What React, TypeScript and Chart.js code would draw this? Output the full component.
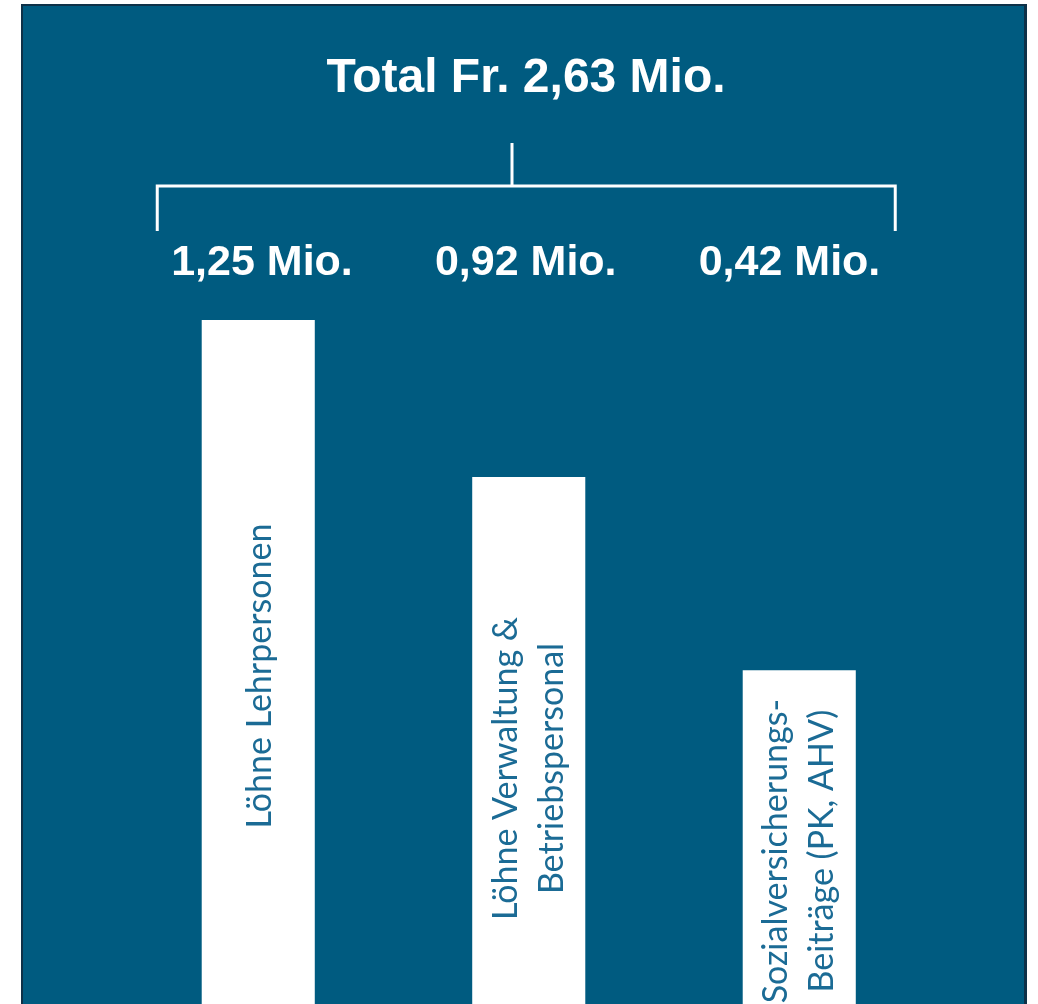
import React, { useEffect, useRef } from "react";
import { Chart, registerables } from "chart.js";

Chart.register(...registerables);

const title = "Total Fr. 2,63 Mio.";
const categories: string[][] = [
  ["Löhne Lehrpersonen"],
  ["Löhne Verwaltung &", "Betriebspersonal"],
  ["Sozialversicherungs-", "Beiträge (PK, AHV)"],
];
const amountLabels = ["1,25 Mio.", "0,92 Mio.", "0,42 Mio."];
// apparent bar lengths as drawn in the picture (bars run off the bottom edge)
const barLengths = [1.25, 0.963, 0.61];

const PANEL = "#005b80";
const LABEL_BLUE = "#1b6b95";

const overlayPlugin = {
  id: "overlay",
  afterDatasetsDraw(chart: any) {
    const { ctx, chartArea } = chart;
    const meta = chart.getDatasetMeta(0);
    const bars = meta.data;
    ctx.save();
    // title
    ctx.fillStyle = "#ffffff";
    ctx.font = "bold 48px 'Liberation Sans', Arial, sans-serif";
    ctx.textAlign = "center";
    ctx.textBaseline = "alphabetic";
    ctx.fillText(title, 526, 92);

    // bracket
    const left = bars[0].x - 101;
    const right = bars[bars.length - 1].x + 96;
    ctx.strokeStyle = "#ffffff";
    ctx.lineWidth = 3;
    ctx.beginPath();
    ctx.moveTo(left, 231);
    ctx.lineTo(left, 186);
    ctx.lineTo(right, 186);
    ctx.lineTo(right, 231);
    ctx.moveTo(512, 186);
    ctx.lineTo(512, 143);
    ctx.stroke();

    // amounts
    ctx.font = "bold 43px 'Liberation Sans', Arial, sans-serif";
    const mid = bars[1].x;
    bars.forEach((b: any, i: number) => {
      ctx.fillText(amountLabels[i], mid - 3 + (b.x - mid) * 0.975, 275);
    });

    // rotated labels inside bars
    ctx.fillStyle = LABEL_BLUE;
    ctx.font = "34px Lato, 'Open Sans', sans-serif";
    ctx.textBaseline = "middle";
    const lineH = 46;
    bars.forEach((b: any, i: number) => {
      const lines = categories[i];
      const cy = (b.y + chartArea.bottom) / 2 + (i === 1 ? 28 : 14);
      ctx.save();
      ctx.translate(b.x + (lines.length === 1 ? 2 : 0), cy);
      ctx.rotate(-Math.PI / 2);
      lines.forEach((ln, j) => {
        ctx.fillText(ln, 0, (j - (lines.length - 1) / 2) * lineH);
      });
      ctx.restore();
    });
    ctx.restore();
  },
};

export default function App() {
  const ref = useRef<HTMLCanvasElement | null>(null);
  useEffect(() => {
    if (!ref.current) return;
    const chart = new Chart(ref.current, {
      type: "bar",
      data: {
        labels: categories.map((c) => c.join(" ")),
        datasets: [
          {
            data: barLengths,
            backgroundColor: "#ffffff",
            borderWidth: 0,
            categoryPercentage: 1,
            barPercentage: 0.418,
          },
        ],
      },
      options: {
        responsive: false,
        animation: false,
        layout: { padding: { left: 123, right: 103.5, top: 320, bottom: 0 } },
        plugins: {
          legend: { display: false },
          tooltip: { enabled: false },
          title: { display: false },
        },
        scales: {
          x: { display: false },
          y: { display: false, min: 0, max: 1.25 },
        },
      },
      plugins: [overlayPlugin],
    });
    return () => chart.destroy();
  }, []);

  return (
    <div style={{ position: "fixed", left: 0, top: 0, width: 1038, height: 1004, overflow: "hidden", background: "#ffffff" }}>
      <div
        style={{
          position: "absolute",
          left: 21,
          top: 4,
          width: 1006,
          height: 1020,
          background: PANEL,
          borderTop: "2px solid #0e3148",
          borderLeft: "2px solid #0e3148",
          borderRight: "3px solid #0e3148",
          boxSizing: "border-box",
        }}
      />
      <canvas ref={ref} width={1038} height={1004} style={{ position: "absolute", left: 0, top: 0 }} />
    </div>
  );
}
